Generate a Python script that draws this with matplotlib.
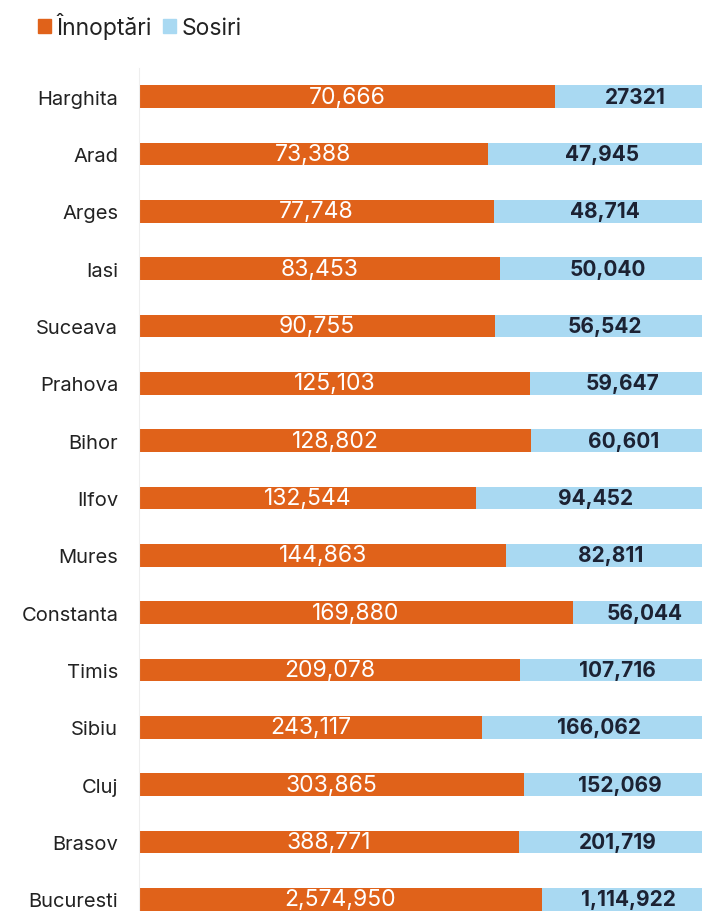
import numpy as np
import matplotlib.pyplot as plt
from matplotlib.patches import Patch

plt.rcParams['font.family'] = ['Inter', 'DejaVu Sans']

judete = ['Harghita', 'Arad', 'Arges', 'Iasi', 'Suceava', 'Prahova', 'Bihor', 'Ilfov',
          'Mures', 'Constanta', 'Timis', 'Sibiu', 'Cluj', 'Brasov', 'Bucuresti']
innoptari = [70666, 73388, 77748, 83453, 90755, 125103, 128802, 132544,
             144863, 169880, 209078, 243117, 303865, 388771, 2574950]
sosiri = [27321, 47945, 48714, 50040, 56542, 59647, 60601, 94452,
          82811, 56044, 107716, 166062, 152069, 201719, 1114922]
# the source prints Harghita without a thousands separator
etichete_sosiri = ['27321', '47,945', '48,714', '50,040', '56,542', '59,647', '60,601', '94,452',
                   '82,811', '56,044', '107,716', '166,062', '152,069', '201,719', '1,114,922']

orange = '#E0621A'
blue = '#A9D9F2'
dark = '#1C2233'

inn = np.array(innoptari, dtype=float)
sos = np.array(sosiri, dtype=float)
total = inn + sos
p_inn = inn / total
p_sos = sos / total
y = np.arange(len(judete))

fig = plt.figure(figsize=(7.02, 9.12), dpi=100)
# axes run past the right and bottom edge, like the cropped original
ax = fig.add_axes([139 / 702, 1 - 929 / 912, 577 / 702, 860 / 912])

ax.barh(y, p_inn, height=0.39, color=orange)
ax.barh(y, p_sos, left=p_inn, height=0.39, color=blue)

for i in range(len(judete)):
    ax.text(p_inn[i] / 2, y[i], f'{innoptari[i]:,}', ha='center', va='center',
            color='white', fontsize=16.5)
    ax.text(p_inn[i] + p_sos[i] / 2, y[i], etichete_sosiri[i], ha='center', va='center',
            color=dark, fontsize=15, fontweight='bold')

ax.set_xlim(0, 1)
ax.set_ylim(len(judete) - 0.5, -0.5)
ax.set_yticks(y)
ax.set_yticklabels(judete, fontsize=14.5, color='#222222')
ax.set_xticks([])
ax.tick_params(axis='y', length=0, pad=15)
for s in ['top', 'right', 'bottom']:
    ax.spines[s].set_visible(False)
ax.spines['left'].set_color('#EEEEEE')

handles = [Patch(color=orange, label='Înnoptări'), Patch(color=blue, label='Sosiri')]
fig.legend(handles=handles, loc='upper left', bbox_to_anchor=(0.025, 1.008), ncol=2,
           frameon=False, fontsize=16.5, handlelength=0.55, handleheight=0.55,
           handletextpad=0.25, columnspacing=0.5, labelcolor='#222222')

fig.savefig('out.png', dpi=100)
